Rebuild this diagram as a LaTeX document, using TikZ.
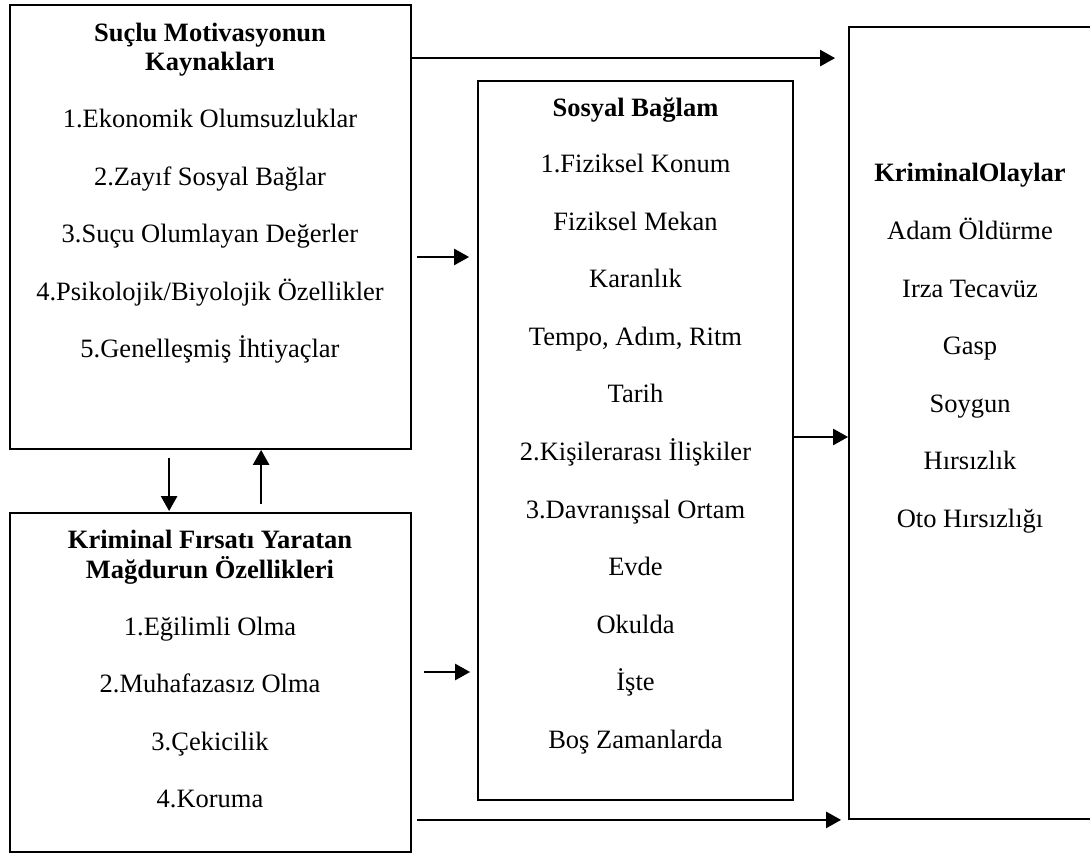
\documentclass[tikz,border=0pt]{standalone}
\usepackage{fontspec}
\setmainfont{Liberation Serif}
\usetikzlibrary{calc,arrows.meta}

\begin{document}
\begin{tikzpicture}[
  x=0.5pt,y=-0.5pt,
  box/.style={draw,line width=0.9pt,inner sep=0pt},
  txt/.style={anchor=base,inner sep=0pt,font=\fontsize{13.25}{14.75}\selectfont},
  head/.style={anchor=base,inner sep=0pt,font=\fontsize{13.25}{14.75}\selectfont\bfseries},
  arr/.style={-{Triangle[length=7.5pt,width=8pt]},line width=1.25pt}
  ]
\def\gap{57.5}
\useasboundingbox (0,0) rectangle (1090,854);
\node[box,minimum width=200.5pt,minimum height=222pt] (kaynak) at (210.5,227){};    % motivation sources
\node[box,minimum width=200.5pt,minimum height=169.5pt] (firsat) at (210.5,682.5){}; % victim features
\node[box,minimum width=157.5pt,minimum height=359.5pt] (baglam) at (635.5,440.5){}; % social context
\node[box,minimum width=122pt,minimum height=396pt] (olay) at (971,423){};           % criminal events
% texts
\node[head] (kaynakA) at (210,42) {Suçlu Motivasyonun};
\node[head] (kaynakB) at (210,71) {Kaynakları};
\foreach \t [count=\i] in {1.Ekonomik Olumsuzluklar,2.Zayıf Sosyal Bağlar,3.Suçu Olumlayan Değerler,4.Psikolojik/Biyolojik Özellikler,5.Genelleşmiş İhtiyaçlar}
  \node[txt] (kaynak\i) at (210,{128+\gap*(\i-1)}) {\t};
\node[head] (firsatA) at (210,548) {Kriminal Fırsatı Yaratan};
\node[head] (firsatB) at (210,578) {Mağdurun Özellikleri};
\foreach \t [count=\i] in {1.Eğilimli Olma,2.Muhafazasız Olma,3.Çekicilik,4.Koruma}
  \node[txt] (firsat\i) at (210,{635+\gap*(\i-1)}) {\t};
\node[head] (baglamA) at (635.5,117) {Sosyal Bağlam};
\foreach \t [count=\i] in {1.Fiziksel Konum,Fiziksel Mekan,Karanlık,{Tempo, Adım, Ritm},Tarih,2.Kişilerarası İlişkiler,3.Davranışsal Ortam,Evde,Okulda,İşte,Boş Zamanlarda}
  \node[txt] (baglam\i) at (635.5,{173+\gap*(\i-1)}) {\t};
\node[head] (olayA) at (970,182) {KriminalOlaylar};
\foreach \t [count=\i] in {Adam Öldürme,Irza Tecavüz,Gasp,Soygun,Hırsızlık,Oto Hırsızlığı}
  \node[txt] (olay\i) at (970,{240+\gap*(\i-1)}) {\t};
% arrows
\draw[arr] ($(kaynak.north east)+(0,54)$) coordinate (ust) -- ($(ust -| olay.west)+(-13,0)$);
\draw[arr] ($(kaynak.east)+(5,30)$) coordinate (kb) -- ($(kb -| baglam.west)+(-8,0)$);
\draw[arr] ($(baglam.east)+(0,-3.5)$) coordinate (bo) -- (bo -| olay.west);
\draw[arr] ($(firsat.east)+(12,-10.5)$) coordinate (fb) -- ($(fb -| baglam.west)+(-7,0)$);
\draw[arr] ($(firsat.south east)+(5,-33)$) coordinate (alt) -- ($(alt -| olay.west)+(-7,0)$);
\draw[arr] ($(kaynak.south west)+(160,8)$) coordinate (asagi) -- ($(asagi |- firsat.north)+(0,-1)$);
\draw[arr] ($(firsat.north west)+(252,-8)$) coordinate (yukari) -- (yukari |- kaynak.south);
\end{tikzpicture}
\end{document}
